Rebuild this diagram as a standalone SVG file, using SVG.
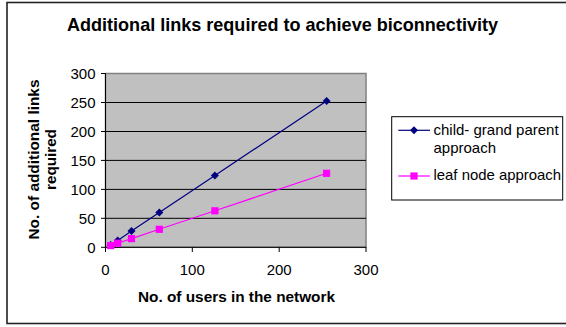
<svg xmlns="http://www.w3.org/2000/svg" width="566" height="327" viewBox="0 0 566 327">
<style>
.t{font-family:"Liberation Sans",Arial,sans-serif;fill:#000}
.b{font-weight:bold}
.tick{font-size:15px}
.grid{stroke:#000;stroke-width:1}
.ax{stroke:#000;stroke-width:1;fill:none}
.s1{stroke:#000080;stroke-width:1.2;fill:none}
.s2{stroke:#FF00FF;stroke-width:1.2;fill:none}
</style>
<defs>
<path id="dia" d="M0,-4 L4,0 L0,4 L-4,0 Z" fill="#000080"/>
<rect id="sq" x="-3.6" y="-3.6" width="7.2" height="7.2" fill="#FF00FF"/>
</defs>
<rect x="0" y="0" width="566" height="327" fill="#fff"/>
<rect x="7" y="2.5" width="575" height="321" fill="none" stroke="#222" stroke-width="1.6"/>
<text id="title" class="t b" x="282.5" y="30.7" font-size="17.8" text-anchor="middle" textLength="431" lengthAdjust="spacingAndGlyphs">Additional links required to achieve biconnectivity</text>
<g id="plot">
<rect x="105.5" y="73.5" width="260.5" height="173.8" fill="#C0C0C0" stroke="#808080" stroke-width="1.5"/>
<g class="grid">
<line x1="105.5" y1="218.3" x2="366" y2="218.3"/>
<line x1="105.5" y1="189.4" x2="366" y2="189.4"/>
<line x1="105.5" y1="160.4" x2="366" y2="160.4"/>
<line x1="105.5" y1="131.5" x2="366" y2="131.5"/>
<line x1="105.5" y1="102.5" x2="366" y2="102.5"/>
</g>
<g class="ax">
<path d="M105.5,73.5 V247.3 H366"/>
<path d="M101,73.5 H105.5 M101,102.5 H105.5 M101,131.5 H105.5 M101,160.4 H105.5 M101,189.4 H105.5 M101,218.3 H105.5 M101,247.3 H105.5"/>
<path d="M105.5,247.3 V252 M192.3,247.3 V252 M279.2,247.3 V252 M366,247.3 V252"/>
</g>
</g>
<g id="yticks" class="t tick" text-anchor="end">
<text x="95.5" y="79">300</text>
<text x="95.5" y="108">250</text>
<text x="95.5" y="137">200</text>
<text x="95.5" y="166">150</text>
<text x="95.5" y="195">100</text>
<text x="95.5" y="224">50</text>
<text x="95.5" y="253">0</text>
</g>
<g id="xticks" class="t tick" text-anchor="middle">
<text x="105.5" y="275">0</text>
<text x="192.3" y="275">100</text>
<text x="279.2" y="275">200</text>
<text x="366" y="275">300</text>
</g>
<text id="xtitle" class="t b" x="236.5" y="301.5" font-size="15.2" text-anchor="middle" textLength="197" lengthAdjust="spacingAndGlyphs">No. of users in the network</text>
<text id="ytitle" class="t b" font-size="15.2" text-anchor="middle" transform="translate(38.5,159.5) rotate(-90)"><tspan x="0" y="0" textLength="160" lengthAdjust="spacingAndGlyphs">No. of additional links</tspan><tspan x="0" y="17.5">required</tspan></text>
<g id="connectors">
<polyline class="s1" points="110.7,245 117.7,240.4 131.5,231.1 159.3,212.5 214.9,175.5 326.6,101"/>
<polyline class="s2" points="110.7,245.6 117.7,243.2 131.5,238.6 159.3,229.3 214.9,210.8 326.6,173.3"/>
</g>
<g id="series-child">
<use href="#dia" x="110.7" y="245"/>
<use href="#dia" x="117.7" y="240.4"/>
<use href="#dia" x="131.5" y="231.1"/>
<use href="#dia" x="159.3" y="212.5"/>
<use href="#dia" x="214.9" y="175.5"/>
<use href="#dia" x="326.6" y="101"/>
</g>
<g id="series-leaf">
<use href="#sq" x="110.7" y="245.6"/>
<use href="#sq" x="117.7" y="243.2"/>
<use href="#sq" x="131.5" y="238.6"/>
<use href="#sq" x="159.3" y="229.3"/>
<use href="#sq" x="214.9" y="210.8"/>
<use href="#sq" x="326.6" y="173.3"/>
</g>
<g id="legend">
<rect x="391.7" y="116.7" width="171" height="83.3" fill="#fff" stroke="#000" stroke-width="1"/>
<line class="s1" x1="398.3" y1="130.3" x2="430" y2="130.3"/>
<use href="#dia" x="414" y="130.3"/>
<line class="s2" x1="398.3" y1="176" x2="430" y2="176"/>
<use href="#sq" x="414" y="176"/>
<text class="t" font-size="15" x="433.5" y="134.5">child- grand parent</text>
<text class="t" font-size="15" x="433.5" y="152.5">approach</text>
<text class="t" font-size="15" x="433.5" y="179.5" textLength="127.5" lengthAdjust="spacingAndGlyphs">leaf node approach</text>
</g>
</svg>
